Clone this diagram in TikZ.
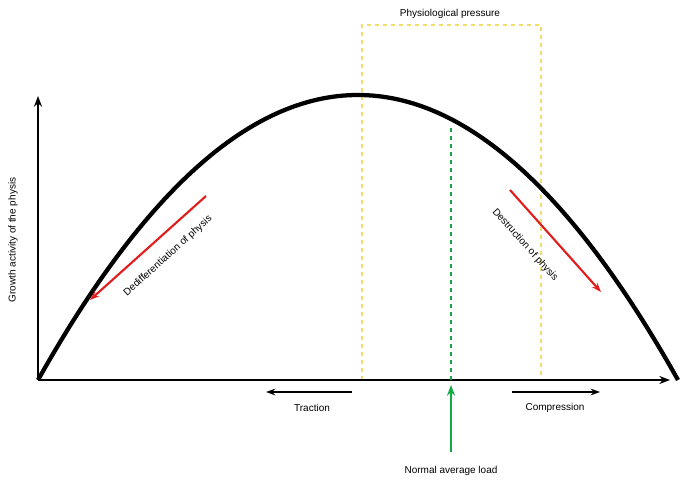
\documentclass[tikz,border=0pt]{standalone}
\usepackage{fontspec}
\setmainfont{Liberation Sans}
\usetikzlibrary{arrows.meta}
\definecolor{yel}{RGB}{240,220,110}
\definecolor{grn}{RGB}{20,170,70}
\definecolor{rd}{RGB}{225,30,30}
\begin{document}
\begin{tikzpicture}[x=0.75pt,y=-0.75pt,
  lbl/.style={font=\fontsize{7.5}{8.5}\selectfont,inner sep=1pt},
  ax/.style={line width=1.8pt,-{Stealth[length=8pt,width=6pt]}},
  red/.style={rd,line width=1.6pt,-{Stealth[length=7pt,width=5pt]}}]
\useasboundingbox (0,0) rectangle (685,489);
\coordinate (o) at (38,380);
\coordinate (ytop) at (38,96);
\coordinate (xend) at (670,380);
\coordinate (cend) at (678,380);
\draw[yel,dashed,line width=0.8pt] (362,380) -- (362,25) -- (541,25) -- (541,380);
\node[lbl] (pp) at (450,14) {Physiological pressure};
\draw[line width=3.2pt] (o) .. controls (251.3,0) and (464.7,0) .. (cend);
\draw[ax] (o) -- (ytop);
\draw[ax] (o) -- (xend);
\draw[grn,dashed,line width=1.3pt] (451,128) -- (451,380);
\coordinate (ga) at (451,452);
\coordinate (gb) at (451,385);
\draw[grn,line width=1.6pt,-{Stealth[length=8pt,width=6pt]}] (ga) -- (gb);
\node[lbl] (nal) at (451,471) {Normal average load};
\coordinate (t1) at (352,392); \coordinate (t2) at (266,392);
\draw[line width=1.6pt,-{Stealth[length=7pt,width=5pt]}] (t1) -- (t2);
\node[lbl] (tr) at (312,408) {Traction};
\coordinate (c1) at (512,392); \coordinate (c2) at (600,392);
\draw[line width=1.6pt,-{Stealth[length=7pt,width=5pt]}] (c1) -- (c2);
\node[lbl] (co) at (555,408) {Compression};
\coordinate (r1) at (206,196); \coordinate (r2) at (90,300);
\draw[red] (r1) -- (r2);
\node[lbl,rotate=42] (dd) at (168,256) {Dedifferentiation of physis};
\coordinate (r3) at (510,190); \coordinate (r4) at (601,292);
\draw[red] (r3) -- (r4);
\node[lbl,rotate=-48] (dp) at (525,245) {Destruction of physis};
\node[lbl,rotate=90] (yl) at (13,240) {Growth activity of the physis};
\end{tikzpicture}
\end{document}
